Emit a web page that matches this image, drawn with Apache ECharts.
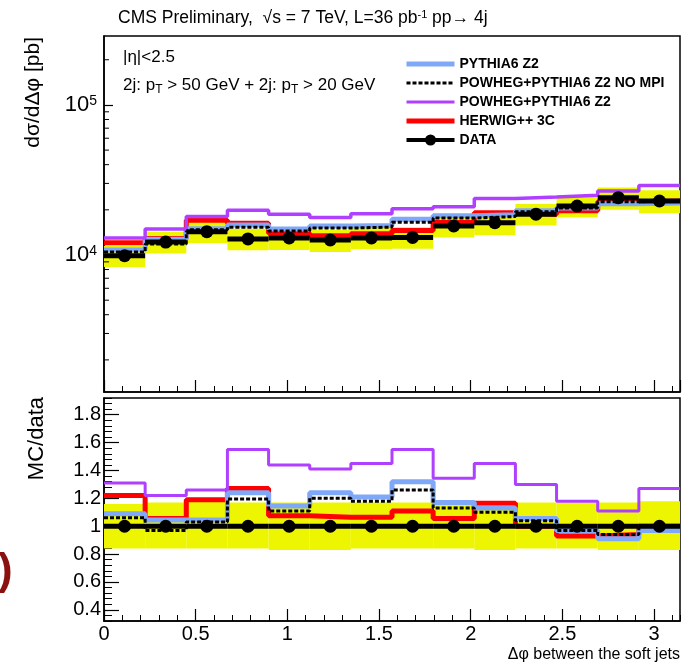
<!DOCTYPE html>
<html><head><meta charset="utf-8">
<script src="https://cdn.jsdelivr.net/npm/echarts@6/dist/echarts.min.js"></script>
<style>html,body{margin:0;padding:0;background:#fff}#c{width:683px;height:664px}</style>
</head><body><div id="c"></div>
<script>
// ---- data ----
const binEdges   = [0, 0.2244, 0.4488, 0.6732, 0.8976, 1.1220, 1.3464, 1.5708, 1.7952, 2.0196, 2.2440, 2.4683, 2.6928, 2.9172, 3.1416];
const binCenters = [0.1122, 0.3366, 0.5610, 0.7854, 1.0098, 1.2342, 1.4586, 1.6830, 1.9074, 2.1318, 2.3562, 2.5806, 2.8050, 3.0294];

// upper panel: dsigma/dDeltaphi [pb]
const dataXsec    = [9900, 12200, 14300, 12800, 13000, 12600, 13000, 13100, 15600, 16400, 18700, 21200, 24100, 22900];
const bandLoXsec  = [8320, 10250, 12010, 10750, 10790, 10460, 10920, 11000, 13100, 13610, 15710, 17810, 20000, 19010];
const bandHiXsec  = [11480, 14270, 16870, 14980, 15210, 14740, 15210, 15330, 18250, 19190, 21880, 24800, 28200, 27020];
const pythiaXsec  = [10790, 12750, 14940, 15870, 14890, 15620, 15730, 17290, 18250, 18530, 19730, 20560, 21930, 22210];
const noMpiXsec   = [10490, 11830, 14730, 15300, 14430, 15120, 15340, 16510, 17630, 18040, 19450, 20560, 22650, 22900];
const powhegXsec  = [12970, 14880, 18020, 19840, 18720, 17770, 18850, 20300, 20980, 23780, 24310, 25020, 26750, 29080];
const herwigXsec  = [12080, 12870, 17020, 16260, 13980, 13420, 13850, 14540, 16460, 19110, 18700, 19720, 22650, 22900];

// lower panel: MC/data
const dataRatio   = [1, 1, 1, 1, 1, 1, 1, 1, 1, 1, 1, 1, 1, 1];
const bandLoRatio = [0.84, 0.84, 0.84, 0.84, 0.83, 0.83, 0.84, 0.84, 0.84, 0.83, 0.84, 0.84, 0.83, 0.83];
const bandHiRatio = [1.16, 1.17, 1.18, 1.17, 1.17, 1.17, 1.17, 1.17, 1.17, 1.17, 1.17, 1.17, 1.17, 1.18];
const pythiaRatio = [1.09, 1.045, 1.045, 1.24, 1.145, 1.24, 1.21, 1.32, 1.17, 1.13, 1.055, 0.97, 0.91, 0.97];
const noMpiRatio  = [1.06, 0.97, 1.03, 1.195, 1.11, 1.20, 1.18, 1.26, 1.13, 1.10, 1.04, 0.97, 0.94, 1.0];
const powhegRatio = [1.31, 1.22, 1.26, 1.55, 1.44, 1.41, 1.45, 1.55, 1.345, 1.45, 1.30, 1.18, 1.11, 1.27];
const herwigRatio = [1.22, 1.055, 1.19, 1.27, 1.075, 1.065, 1.065, 1.11, 1.055, 1.165, 1.0, 0.93, 0.94, 1.0];

// tick values
const logMinorTicks = [2000, 3000, 4000, 5000, 6000, 7000, 8000, 9000, 20000, 30000, 40000, 50000, 60000, 70000, 80000, 90000, 200000];
const logLabels = {10000: '4', 100000: '5'};

const names = ['PYTHIA6 Z2', 'POWHEG+PYTHIA6 Z2 NO MPI', 'POWHEG+PYTHIA6 Z2', 'HERWIG++ 3C', 'DATA'];
const C = {pythia: '#80a8f8', nompi: '#000000', powheg: '#b040ff', herwig: '#ff0000', band: '#eef500'};

// ---- helpers ----
function stepData(vals) { return binEdges.map((e, i) => [e, vals[Math.min(i, vals.length - 1)]]); }
function boxData(lo, hi) { return lo.map((l, i) => [binEdges[i], binEdges[i + 1], l, hi[i]]); }
function ptsData(vals) { return vals.map((v, i) => [binEdges[i], binEdges[i + 1], binCenters[i], v]); }

function bandSeries(xi, yi, lo, hi) {
  return {type: 'custom', xAxisIndex: xi, yAxisIndex: yi, silent: true, z: 1, clip: true,
    encode: {x: [0, 1], y: [2, 3]}, data: boxData(lo, hi),
    renderItem(p, api) {
      const a = api.coord([api.value(0), api.value(3)]);
      const b = api.coord([api.value(1), api.value(2)]);
      return {type: 'rect', shape: {x: a[0], y: a[1], width: b[0] - a[0], height: b[1] - a[1]},
        style: {fill: C.band}};
    }};
}
function stepSeries(name, xi, yi, vals, color, width, dash, z) {
  return {type: 'line', name, xAxisIndex: xi, yAxisIndex: yi, step: 'end', symbol: 'none',
    data: stepData(vals), z, silent: true,
    lineStyle: {color, width, type: dash || 'solid'}, itemStyle: {color}};
}
function dataSeries(xi, yi, vals) {
  return {type: 'custom', name: 'DATA', xAxisIndex: xi, yAxisIndex: yi, z: 10, silent: true,
    encode: {x: [0, 1, 2], y: 3}, data: ptsData(vals), itemStyle: {color: '#000'},
    renderItem(p, api) {
      const y = api.value(3);
      const a = api.coord([api.value(0), y]);
      const b = api.coord([api.value(1), y]);
      const c = api.coord([api.value(2), y]);
      return {type: 'group', children: [
        {type: 'line', shape: {x1: a[0], y1: a[1], x2: b[0], y2: b[1]}, style: {stroke: '#000', lineWidth: 5}},
        {type: 'circle', shape: {cx: c[0], cy: c[1], r: 6.5}, style: {fill: '#000'}}
      ]};
    }};
}

const FONT = 'Liberation Sans, Arial, sans-serif';
const frame = {show: true, borderColor: '#000', borderWidth: 1.5, backgroundColor: 'transparent'};

function xMajor(gi, showLabels) {
  return {type: 'value', gridIndex: gi, min: 0, max: 3.1416, interval: 0.5,
    axisLine: {show: true, onZero: false, lineStyle: {color: '#000', width: 1.5}},
    axisTick: {show: true, inside: true, length: 12, lineStyle: {color: '#000', width: 1.2}},
    axisLabel: {show: showLabels, color: '#000', fontFamily: FONT, fontSize: 20, margin: 3, showMaxLabel: false},
    splitLine: {show: false}};
}
function xMinor(gi) {
  return {type: 'value', gridIndex: gi, min: 0, max: 3.1416, interval: 0.1, position: 'bottom',
    axisLine: {show: false}, axisLabel: {show: false}, splitLine: {show: false},
    axisTick: {show: true, inside: true, length: 6, lineStyle: {color: '#000', width: 1}}};
}

const option = {
  animation: false,
  backgroundColor: '#fff',
  grid: [
    Object.assign({left: 104, top: 36, width: 576, height: 356}, frame),
    Object.assign({left: 104, top: 398, width: 576, height: 223}, frame)
  ],
  xAxis: [xMajor(0, false), xMinor(0), xMajor(1, true), xMinor(1)],
  yAxis: [
    {type: 'log', gridIndex: 0, logBase: 10, min: 1222, max: 288000,
      axisLine: {show: true, onZero: false, lineStyle: {color: '#000', width: 1.5}},
      axisTick: {show: true, inside: true, length: 9, lineStyle: {color: '#000', width: 1.2}},
      axisLabel: {show: true, margin: 7, showMinLabel: false, showMaxLabel: false,
        formatter: v => logLabels[Math.round(v)] ? '{b|10}{s|' + logLabels[Math.round(v)] + '}' : '',
        rich: {b: {fontSize: 22, fontFamily: FONT, color: '#000'},
               s: {fontSize: 14, fontFamily: FONT, color: '#000', verticalAlign: 'top', lineHeight: 14, padding: [0, 0, 10, 0]}}},
      splitLine: {show: false}},
    {type: 'value', gridIndex: 1, min: 0.32, max: 1.92, splitNumber: 8,
      axisLine: {show: true, onZero: false, lineStyle: {color: '#000', width: 1.5}},
      axisTick: {show: true, inside: true, length: 15, lineStyle: {color: '#000', width: 1.2}},
      axisLabel: {show: true, margin: 3, showMinLabel: false, showMaxLabel: false, color: '#000', fontFamily: FONT, fontSize: 20},
      splitLine: {show: false}},
    {type: 'value', gridIndex: 1, min: 0.32, max: 1.92, interval: 0.04, position: 'left',
      axisLine: {show: false}, axisLabel: {show: false}, splitLine: {show: false},
      axisTick: {show: true, inside: true, length: 8, lineStyle: {color: '#000', width: 1}}}
  ],
  legend: {
    left: 399, top: 52, orient: 'vertical', itemGap: 5, itemWidth: 48, itemHeight: 12,
    selectedMode: false,
    itemStyle: {opacity: 0},
    textStyle: {color: '#000', fontFamily: FONT, fontSize: 14, fontWeight: 'bold', lineHeight: 14},
    data: [
      {name: names[0], lineStyle: {width: 5}},
      {name: names[1], lineStyle: {width: 3}},
      {name: names[2], lineStyle: {width: 3}},
      {name: names[3], lineStyle: {width: 5}},
      {name: names[4], itemStyle: {opacity: 1, color: '#000'},
        icon: 'path://M0,0h0.01v0.01h-0.01Z M47.99,11.99h0.01v0.01h-0.01Z M0,4H48V8H0Z M29.5,6A5.5,5.5 0 1 1 18.5,6A5.5,5.5 0 1 1 29.5,6Z'}
    ]
  },
  series: [
    bandSeries(0, 0, bandLoXsec, bandHiXsec),
    stepSeries(names[3], 0, 0, herwigXsec, C.herwig, 5, null, 3),
    stepSeries(names[0], 0, 0, pythiaXsec, C.pythia, 5, null, 4),
    stepSeries(names[1], 0, 0, noMpiXsec, C.nompi, 3, [4, 2], 5),
    stepSeries(names[2], 0, 0, powhegXsec, C.powheg, 3.5, null, 6),
    dataSeries(0, 0, dataXsec),
    {type: 'custom', xAxisIndex: 0, yAxisIndex: 0, silent: true, z: 12, clip: false,
      encode: {x: 0, y: 1}, data: logMinorTicks.map(v => [0, v]),
      renderItem(p, api) {
        const q = api.coord([api.value(0), api.value(1)]);
        return {type: 'line', shape: {x1: q[0], y1: q[1], x2: q[0] + 5, y2: q[1]}, style: {stroke: '#000', lineWidth: 1}};
      }},
    bandSeries(2, 1, bandLoRatio, bandHiRatio),
    stepSeries(names[3], 2, 1, herwigRatio, C.herwig, 5, null, 3),
    stepSeries(names[0], 2, 1, pythiaRatio, C.pythia, 5, null, 4),
    stepSeries(names[1], 2, 1, noMpiRatio, C.nompi, 3, [4, 2], 5),
    stepSeries(names[2], 2, 1, powhegRatio, C.powheg, 3, null, 6),
    dataSeries(2, 1, dataRatio)
  ],
  graphic: [
    {type: 'text', left: 118, top: 9, style: {
      text: '{a|CMS Preliminary,  √s = 7 TeV, L=36 pb}{s|-1}{a| pp→ 4j}',
      rich: {a: {fontSize: 17.5, fontFamily: FONT, fill: '#000'},
             s: {fontSize: 11, fontFamily: FONT, fill: '#000', verticalAlign: 'top', lineHeight: 11}}}},
    {type: 'text', left: 123, top: 49, style: {text: '|η|<2.5', fontSize: 17, fontFamily: FONT, fill: '#000'}},
    {type: 'text', left: 123, top: 77, style: {
      text: '{a|2j: p}{t|T}{a| > 50 GeV + 2j: p}{t|T}{a| > 20 GeV}',
      rich: {a: {fontSize: 17, fontFamily: FONT, fill: '#000'},
             t: {fontSize: 12, fontFamily: FONT, fill: '#000', verticalAlign: 'bottom', padding: [9, 0, 0, 0]}}}},
    {type: 'text', x: 33, y: 37, rotation: Math.PI / 2, style: {
      text: 'dσ/dΔφ [pb]', fontSize: 21, fontFamily: FONT, fill: '#000', align: 'right', verticalAlign: 'middle'}},
    {type: 'text', x: 37, y: 397, rotation: Math.PI / 2, style: {
      text: 'MC/data', fontSize: 22, fontFamily: FONT, fill: '#000', align: 'right', verticalAlign: 'middle'}},
    {type: 'text', x: 680, y: 655, style: {
      text: 'Δφ between the soft jets', fontSize: 16, fontFamily: FONT, fill: '#000', align: 'right', verticalAlign: 'middle'}},
    {type: 'text', x: -2, y: 572, style: {
      text: ')', fontSize: 44, fontWeight: 'bold', fontFamily: FONT, fill: '#8b1010', align: 'left', verticalAlign: 'middle'}}
  ]
};

const chart = echarts.init(document.getElementById('c'), null, {renderer: 'canvas'});
chart.setOption(option);
</script>
</body></html>
